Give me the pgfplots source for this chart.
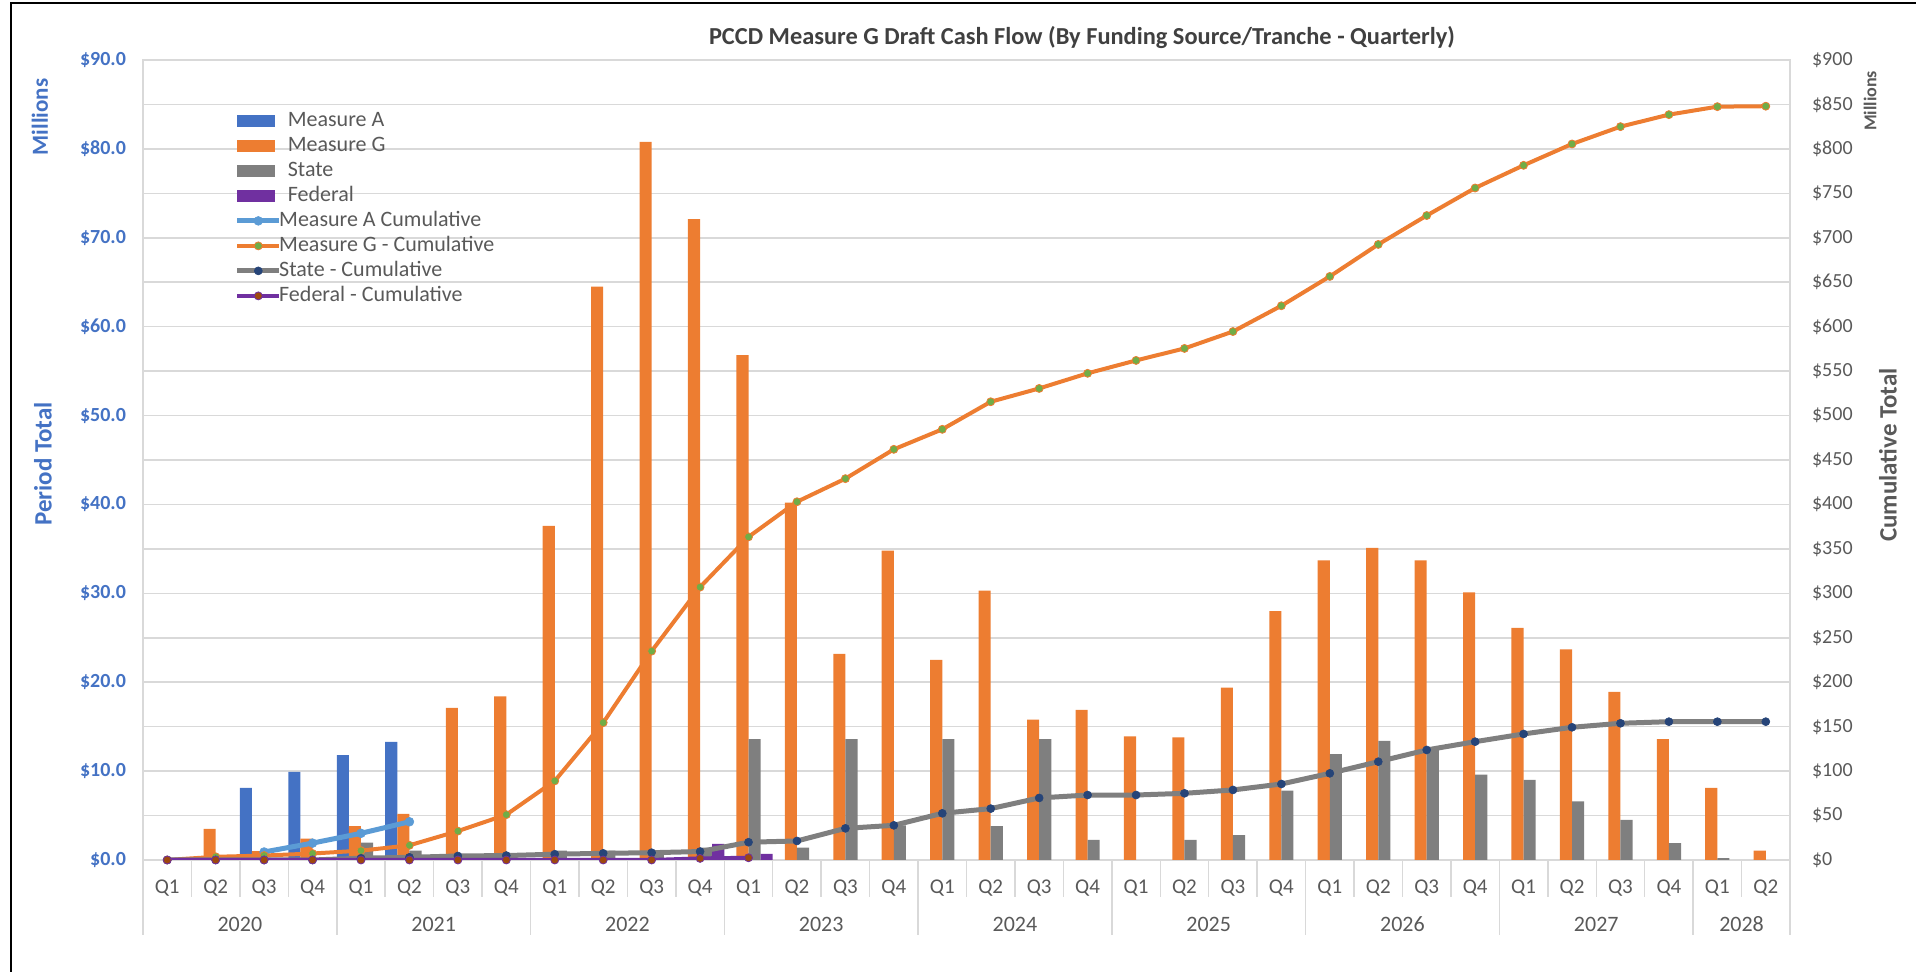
\documentclass[border=0pt]{standalone}
\usepackage{pgfplots}
\pgfplotsset{compat=1.18}
\usepackage{fontspec}
\setmainfont{Carlito}
\definecolor{mA}{HTML}{4472C4}
\definecolor{mG}{HTML}{ED7D31}
\definecolor{st}{HTML}{7F7F7F}
\definecolor{fed}{HTML}{7030A0}
\definecolor{mAc}{HTML}{5B9BD5}
\definecolor{grn}{HTML}{70AD47}
\definecolor{navy}{HTML}{264478}
\definecolor{brn}{HTML}{9E480E}
\definecolor{gridc}{HTML}{D9D9D9}
\definecolor{txt}{HTML}{595959}
\definecolor{ttl}{HTML}{404040}
\pgfplotsset{
  mybar/.style={legend image code/.code={\fill[##1, draw=none] (0pt,-3pt) rectangle (19pt,3pt);}},
  myline/.style={legend image code/.code={\draw[mark repeat=2,mark phase=2,##1] plot coordinates {(0pt,0pt) (10.5pt,0pt) (21pt,0pt)};}},
}
\newcommand{\fs}[1]{\fontsize{#1}{#1}\selectfont}
\begin{document}
\begin{tikzpicture}[x=1pt,y=1pt]
\path[use as bounding box] (0,0) rectangle (958,486);
\draw[line width=1.2pt] (5.5,0) -- (5.5,484.5) -- (958,484.5);
% ---------- bars, left axis
\begin{axis}[
  at={(71.5pt,56pt)}, anchor=south west,
  width=823.5pt, height=400pt, scale only axis,
  xmin=-0.5, xmax=33.5, ymin=0, ymax=90,
  clip=false,
  axis line style={gridc, line width=0.75pt},
  xtick={0,...,33},
  xticklabels={Q1,Q2,Q3,Q4,Q1,Q2,Q3,Q4,Q1,Q2,Q3,Q4,Q1,Q2,Q3,Q4,Q1,Q2,Q3,Q4,Q1,Q2,Q3,Q4,Q1,Q2,Q3,Q4,Q1,Q2,Q3,Q4,Q1,Q2},
  xticklabel style={font=\fs{10.5}, text=txt, anchor=center, yshift=-14pt},
  minor xtick={-0.5,0.5,...,33.5},
  minor tick length=18.3pt,
  major tick length=0pt,
  tick align=outside,
  xtick pos=bottom,
  x tick style={gridc, line width=0.75pt},
  extra x ticks={-0.5,3.5,7.5,11.5,15.5,19.5,23.5,27.5,31.5,33.5},
  extra x tick labels={},
  extra x tick style={major tick length=37.5pt, tick style={gridc, line width=0.75pt}},
  ytick={0,5,...,90},
  yticklabels={\$0.0,{},\$10.0,{},\$20.0,{},\$30.0,{},\$40.0,{},\$50.0,{},\$60.0,{},\$70.0,{},\$80.0,{},\$90.0},
  yticklabel style={font=\bfseries\fs{10}, text=mA, xshift=-5pt},
  ytick pos=left,
  y tick style={draw=none},
  ymajorgrids, major grid style={gridc, line width=0.75pt},
]
\addplot[ybar, bar width=0.25, bar shift=-0.375, fill=mA, draw=none] coordinates {
(2,8.1) (3,9.9) (4,11.8) (5,13.3)};
\addplot[ybar, bar width=0.25, bar shift=-0.125, fill=mG, draw=none] coordinates {
(1,3.5) (2,1.0) (3,2.4) (4,3.8) (5,5.2) (6,17.1) (7,18.4) (8,37.6) (9,64.5) (10,80.8) (11,72.1)
(12,56.8) (13,40.2) (14,23.2) (15,34.8) (16,22.5) (17,30.3) (18,15.8) (19,16.9) (20,13.9) (21,13.8)
(22,19.4) (23,28.0) (24,33.7) (25,35.1) (26,33.7) (27,30.1) (28,26.1) (29,23.7) (30,18.9) (31,13.6)
(32,8.1) (33,1.05)};
\addplot[ybar, bar width=0.25, bar shift=0.125, fill=st, draw=none] coordinates {
(4,1.95) (5,1.05) (6,0.3) (7,0.3) (8,1.05) (9,1.05) (10,0.6) (11,1.4) (12,13.6) (13,1.4) (14,13.6)
(15,3.9) (16,13.6) (17,3.8) (18,13.6) (19,2.25) (21,2.25) (22,2.8) (23,7.8) (24,11.9) (25,13.4)
(26,12.4) (27,9.6) (28,9.0) (29,6.6) (30,4.5) (31,1.9) (32,0.2)};
\addplot[ybar, bar width=0.25, bar shift=0.375, fill=fed, draw=none] coordinates {
(11,1.8) (12,0.7)};
\node[font=\fs{11}, text=txt] at (axis cs:1.5,0) [yshift=-32pt] {2020};
\node[font=\fs{11}, text=txt] at (axis cs:5.5,0) [yshift=-32pt] {2021};
\node[font=\fs{11}, text=txt] at (axis cs:9.5,0) [yshift=-32pt] {2022};
\node[font=\fs{11}, text=txt] at (axis cs:13.5,0) [yshift=-32pt] {2023};
\node[font=\fs{11}, text=txt] at (axis cs:17.5,0) [yshift=-32pt] {2024};
\node[font=\fs{11}, text=txt] at (axis cs:21.5,0) [yshift=-32pt] {2025};
\node[font=\fs{11}, text=txt] at (axis cs:25.5,0) [yshift=-32pt] {2026};
\node[font=\fs{11}, text=txt] at (axis cs:29.5,0) [yshift=-32pt] {2027};
\node[font=\fs{11}, text=txt] at (axis cs:32.5,0) [yshift=-32pt] {2028};
\end{axis}
% ---------- cumulative lines, right axis
\begin{axis}[
  at={(71.5pt,56pt)}, anchor=south west,
  width=823.5pt, height=400pt, scale only axis,
  xmin=-0.5, xmax=33.5, ymin=0, ymax=900,
  hide x axis,
  axis y line*=right,
  axis line style={draw=none},
  ytick={0,50,...,900},
  yticklabels={\$0,\$50,\$100,\$150,\$200,\$250,\$300,\$350,\$400,\$450,\$500,\$550,\$600,\$650,\$700,\$750,\$800,\$850,\$900},
  yticklabel style={font=\fs{10}, text=txt, anchor=west, xshift=7.5pt},
  major tick length=0pt,
  y tick style={draw=none},
  legend style={at={(0.0555,0.94)}, anchor=north west, draw=none, fill=none,
    font=\fs{11}, text=txt, row sep=0pt, inner sep=0pt,
    nodes={text height=8pt, text depth=2.5pt, inner sep=1pt},
    /tikz/every even column/.append style={column sep=0pt}},
  legend cell align=left,
]
\addlegendimage{mybar, fill=mA}
\addlegendentry{\hspace{2pt}Measure A}
\addlegendimage{mybar, fill=mG}
\addlegendentry{\hspace{2pt}Measure G}
\addlegendimage{mybar, fill=st}
\addlegendentry{\hspace{2pt}State}
\addlegendimage{mybar, fill=fed}
\addlegendentry{\hspace{2pt}Federal}
\addplot[myline, mAc, line width=2.5pt, mark=*, mark size=2.2pt, mark options={fill=mAc, draw=mAc, line width=0.3pt}] coordinates {
(2,9) (3,19) (4,30) (5,43)};
\addlegendentry{\hspace{-2.3pt}Measure A Cumulative}
\addplot[myline, mG, line width=2pt, mark=*, mark size=2pt, mark options={fill=grn, draw=mG, line width=0.4pt}] coordinates {
(0,0) (1,3.6) (2,5.0) (3,7.3) (4,10.5) (5,16.5) (6,32.5) (7,51) (8,89) (9,154.5) (10,235) (11,307)
(12,363.5) (13,403) (14,429) (15,462) (16,484.5) (17,515.5) (18,530.5) (19,547.5) (20,562) (21,575.5)
(22,594.5) (23,623.5) (24,656.5) (25,692.5) (26,725) (27,756) (28,781.5) (29,805.5) (30,825) (31,838.5)
(32,847.5) (33,848)};
\addlegendentry{\hspace{-2.3pt}Measure G - Cumulative}
\addplot[myline, st, line width=2.5pt, mark=*, mark size=2pt, mark options={fill=navy, draw=navy, line width=0.3pt}] coordinates {
(0,0) (1,0) (2,0) (3,0) (4,2.0) (5,3.0) (6,4.5) (7,5.0) (8,6.5) (9,7.5) (10,8.2) (11,9.5)
(12,20) (13,21.4) (14,35.6) (15,39) (16,52.5) (17,57.8) (18,69.8) (19,73.1) (20,73.1) (21,75)
(22,78.8) (23,85.5) (24,97.5) (25,110.6) (26,123.8) (27,133.1) (28,141.8) (29,149.3) (30,153.8)
(31,155.6) (32,155.6) (33,155.6)};
\addlegendentry{\hspace{-2.3pt}State - Cumulative}
\addplot[myline, fed, line width=2pt, mark=*, mark size=2pt, mark options={fill=brn, draw=fed, line width=0.4pt}] coordinates {
(0,0) (1,0) (2,0) (3,0) (4,0) (5,0) (6,0) (7,0) (8,0) (9,0) (10,0) (11,1.8) (12,2.5)};
\addlegendentry{\hspace{-2.3pt}Federal - Cumulative}
\end{axis}
% ---------- titles
\node[font=\bfseries\fs{12.2}, text=ttl] at (541,467) {PCCD Measure G Draft Cash Flow (By Funding Source/Tranche - Quarterly)};
\node[rotate=90, font=\bfseries\fs{11.5}, text=mA] at (20,427.5) {Millions};
\node[rotate=90, font=\bfseries\fs{12.5}, text=mA] at (21.5,254) {Period Total};
\node[rotate=90, font=\bfseries\fs{9}, text=txt] at (935,435.5) {Millions};
\node[rotate=90, font=\bfseries\fs{12.5}, text=txt] at (944,258.5) {Cumulative Total};
\end{tikzpicture}
\end{document}
